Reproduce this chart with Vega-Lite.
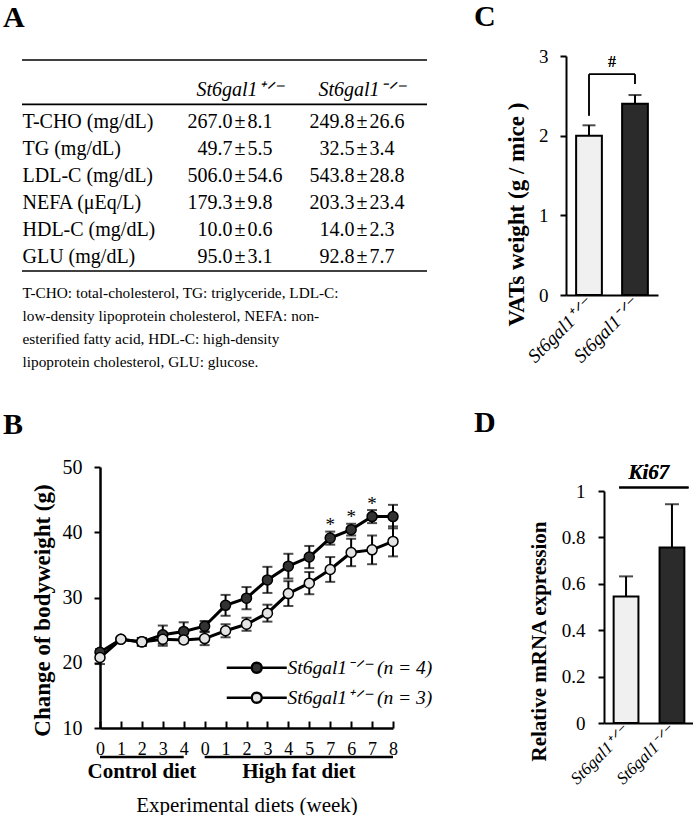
{
  "$schema": "https://vega.github.io/schema/vega-lite/v6.json",
  "padding": {"left": 3, "top": 2, "right": 0, "bottom": 0},
  "config": {
    "font": "Liberation Serif",
    "view": {"stroke": null},
    "axis": {"grid": false, "domainColor": "black", "tickColor": "black", "labelColor": "black", "titleColor": "black", "labelFont": "Liberation Serif", "titleFont": "Liberation Serif"},
    "title": {"font": "Liberation Serif", "color": "black", "fontSize": 30, "fontWeight": "bold", "anchor": "start", "frame": "group", "baseline": "top"},
    "text": {"font": "Liberation Serif", "color": "black"}
  },
  "datasets": {
    "table": [
      {"param": "T-CHO (mg/dL)", "group": "St6gal1⁺ᐟ⁻", "mean": 267.0, "sd": 8.1},
      {"param": "T-CHO (mg/dL)", "group": "St6gal1⁻ᐟ⁻", "mean": 249.8, "sd": 26.6},
      {"param": "TG (mg/dL)", "group": "St6gal1⁺ᐟ⁻", "mean": 49.7, "sd": 5.5},
      {"param": "TG (mg/dL)", "group": "St6gal1⁻ᐟ⁻", "mean": 32.5, "sd": 3.4},
      {"param": "LDL-C (mg/dL)", "group": "St6gal1⁺ᐟ⁻", "mean": 506.0, "sd": 54.6},
      {"param": "LDL-C (mg/dL)", "group": "St6gal1⁻ᐟ⁻", "mean": 543.8, "sd": 28.8},
      {"param": "NEFA (μEq/L)", "group": "St6gal1⁺ᐟ⁻", "mean": 179.3, "sd": 9.8},
      {"param": "NEFA (μEq/L)", "group": "St6gal1⁻ᐟ⁻", "mean": 203.3, "sd": 23.4},
      {"param": "HDL-C (mg/dL)", "group": "St6gal1⁺ᐟ⁻", "mean": 10.0, "sd": 0.6},
      {"param": "HDL-C (mg/dL)", "group": "St6gal1⁻ᐟ⁻", "mean": 14.0, "sd": 2.3},
      {"param": "GLU (mg/dL)", "group": "St6gal1⁺ᐟ⁻", "mean": 95.0, "sd": 3.1},
      {"param": "GLU (mg/dL)", "group": "St6gal1⁻ᐟ⁻", "mean": 92.8, "sd": 7.7}
    ],
    "growth": [
      {"idx": 0, "diet": "Control diet", "genotype": "St6gal1⁻ᐟ⁻ (n = 4)", "mean": 21.6, "sem": 0.5, "sig": ""},
      {"idx": 1, "diet": "Control diet", "genotype": "St6gal1⁻ᐟ⁻ (n = 4)", "mean": 23.6, "sem": 0.3, "sig": ""},
      {"idx": 2, "diet": "Control diet", "genotype": "St6gal1⁻ᐟ⁻ (n = 4)", "mean": 23.2, "sem": 0.6, "sig": ""},
      {"idx": 3, "diet": "Control diet", "genotype": "St6gal1⁻ᐟ⁻ (n = 4)", "mean": 24.3, "sem": 1.4, "sig": ""},
      {"idx": 4, "diet": "Control diet", "genotype": "St6gal1⁻ᐟ⁻ (n = 4)", "mean": 24.8, "sem": 1.4, "sig": ""},
      {"idx": 5, "diet": "High fat diet", "genotype": "St6gal1⁻ᐟ⁻ (n = 4)", "mean": 25.6, "sem": 0.8, "sig": ""},
      {"idx": 6, "diet": "High fat diet", "genotype": "St6gal1⁻ᐟ⁻ (n = 4)", "mean": 28.8, "sem": 1.6, "sig": ""},
      {"idx": 7, "diet": "High fat diet", "genotype": "St6gal1⁻ᐟ⁻ (n = 4)", "mean": 29.9, "sem": 1.7, "sig": ""},
      {"idx": 8, "diet": "High fat diet", "genotype": "St6gal1⁻ᐟ⁻ (n = 4)", "mean": 32.7, "sem": 2.0, "sig": ""},
      {"idx": 9, "diet": "High fat diet", "genotype": "St6gal1⁻ᐟ⁻ (n = 4)", "mean": 34.8, "sem": 1.9, "sig": ""},
      {"idx": 10, "diet": "High fat diet", "genotype": "St6gal1⁻ᐟ⁻ (n = 4)", "mean": 36.2, "sem": 1.7, "sig": ""},
      {"idx": 11, "diet": "High fat diet", "genotype": "St6gal1⁻ᐟ⁻ (n = 4)", "mean": 39.1, "sem": 1.0, "sig": "*"},
      {"idx": 12, "diet": "High fat diet", "genotype": "St6gal1⁻ᐟ⁻ (n = 4)", "mean": 40.4, "sem": 0.9, "sig": "*"},
      {"idx": 13, "diet": "High fat diet", "genotype": "St6gal1⁻ᐟ⁻ (n = 4)", "mean": 42.4, "sem": 1.0, "sig": "*"},
      {"idx": 14, "diet": "High fat diet", "genotype": "St6gal1⁻ᐟ⁻ (n = 4)", "mean": 42.4, "sem": 1.8, "sig": ""},
      {"idx": 0, "diet": "Control diet", "genotype": "St6gal1⁺ᐟ⁻ (n = 3)", "mean": 20.8, "sem": 1.0, "sig": ""},
      {"idx": 1, "diet": "Control diet", "genotype": "St6gal1⁺ᐟ⁻ (n = 3)", "mean": 23.6, "sem": 0.3, "sig": ""},
      {"idx": 2, "diet": "Control diet", "genotype": "St6gal1⁺ᐟ⁻ (n = 3)", "mean": 23.2, "sem": 0.6, "sig": ""},
      {"idx": 3, "diet": "Control diet", "genotype": "St6gal1⁺ᐟ⁻ (n = 3)", "mean": 23.6, "sem": 1.0, "sig": ""},
      {"idx": 4, "diet": "Control diet", "genotype": "St6gal1⁺ᐟ⁻ (n = 3)", "mean": 23.5, "sem": 0.5, "sig": ""},
      {"idx": 5, "diet": "High fat diet", "genotype": "St6gal1⁺ᐟ⁻ (n = 3)", "mean": 23.7, "sem": 1.0, "sig": ""},
      {"idx": 6, "diet": "High fat diet", "genotype": "St6gal1⁺ᐟ⁻ (n = 3)", "mean": 24.9, "sem": 1.0, "sig": ""},
      {"idx": 7, "diet": "High fat diet", "genotype": "St6gal1⁺ᐟ⁻ (n = 3)", "mean": 25.9, "sem": 1.0, "sig": ""},
      {"idx": 8, "diet": "High fat diet", "genotype": "St6gal1⁺ᐟ⁻ (n = 3)", "mean": 27.6, "sem": 1.3, "sig": ""},
      {"idx": 9, "diet": "High fat diet", "genotype": "St6gal1⁺ᐟ⁻ (n = 3)", "mean": 30.6, "sem": 1.9, "sig": ""},
      {"idx": 10, "diet": "High fat diet", "genotype": "St6gal1⁺ᐟ⁻ (n = 3)", "mean": 32.2, "sem": 1.7, "sig": ""},
      {"idx": 11, "diet": "High fat diet", "genotype": "St6gal1⁺ᐟ⁻ (n = 3)", "mean": 34.3, "sem": 1.9, "sig": ""},
      {"idx": 12, "diet": "High fat diet", "genotype": "St6gal1⁺ᐟ⁻ (n = 3)", "mean": 36.9, "sem": 2.1, "sig": ""},
      {"idx": 13, "diet": "High fat diet", "genotype": "St6gal1⁺ᐟ⁻ (n = 3)", "mean": 37.3, "sem": 2.2, "sig": ""},
      {"idx": 14, "diet": "High fat diet", "genotype": "St6gal1⁺ᐟ⁻ (n = 3)", "mean": 38.6, "sem": 2.3, "sig": ""}
    ],
    "vat": [
      {"genotype": "St6gal1⁺ᐟ⁻", "weight": 2.0, "sem": 0.13},
      {"genotype": "St6gal1⁻ᐟ⁻", "weight": 2.4, "sem": 0.11}
    ],
    "ki67": [
      {"genotype": "St6gal1⁺ᐟ⁻", "expr": 0.545, "sem": 0.087},
      {"genotype": "St6gal1⁻ᐟ⁻", "expr": 0.756, "sem": 0.187}
    ]
  },
  "spacing": 41,
  "resolve": {"scale": {"fill": "independent"}, "legend": {"fill": "independent"}},
  "hconcat": [
    {
      "spacing": 40,
      "resolve": {"scale": {"fill": "independent"}, "legend": {"fill": "independent"}},
      "vconcat": [
        {
          "width": 405,
          "height": 215,
          "title": {"text": "A", "dx": -19, "offset": 23},
          "data": {"name": "table"},
          "layer": [
            {
              "transform": [{"filter": "datum.param === 'T-CHO (mg/dL)'"}],
              "mark": {"type": "text", "fontSize": 20, "fontStyle": "italic", "baseline": "middle", "dy": -5},
              "encoding": {
                "x": {"field": "group", "type": "nominal", "scale": {"type": "point", "domain": ["St6gal1⁺ᐟ⁻", "St6gal1⁻ᐟ⁻"], "range": [218, 340], "padding": 0}, "axis": null},
                "y": {"datum": "header", "type": "nominal", "scale": {"type": "band", "range": [4, 215], "domain": ["header", "T-CHO (mg/dL)", "TG (mg/dL)", "LDL-C (mg/dL)", "NEFA (μEq/L)", "HDL-C (mg/dL)", "GLU (mg/dL)"], "paddingInner": 0, "paddingOuter": 0.407, "align": 1}},
                "text": {"field": "group"}
              }
            },
            {
              "mark": {"type": "text", "fontSize": 20, "align": "right", "baseline": "middle", "dx": -7.5},
              "encoding": {
                "x": {"field": "group", "type": "nominal", "scale": {"type": "point", "domain": ["St6gal1⁺ᐟ⁻", "St6gal1⁻ᐟ⁻"], "range": [218, 340], "padding": 0}, "axis": {"orient": "bottom", "domain": false, "labels": false, "ticks": false, "title": ["T-CHO: total-cholesterol, TG: triglyceride, LDL-C:", "low-density lipoprotein cholesterol, NEFA: non-", "esterified fatty acid, HDL-C:  high-density", "lipoprotein cholesterol, GLU: glucose."], "titleFontSize": 15.3, "titleFontWeight": "normal", "titleX": 0, "titleY": 14, "titleAlign": "left", "titleBaseline": "top", "titleLineHeight": 23}},
                "y": {"field": "param", "type": "nominal", "scale": {"type": "band", "range": [4, 215], "domain": ["header", "T-CHO (mg/dL)", "TG (mg/dL)", "LDL-C (mg/dL)", "NEFA (μEq/L)", "HDL-C (mg/dL)", "GLU (mg/dL)"], "paddingInner": 0, "paddingOuter": 0.407, "align": 1}, "axis": {"title": null, "domain": false, "ticks": false, "tickSize": 0, "labelPadding": 0, "labelAlign": "left", "labelFontSize": 20, "labelOverlap": false, "labelExpr": "datum.value === 'header' ? '' : datum.value"}},
                "text": {"field": "mean", "type": "quantitative", "format": ".1f"}
              }
            },
            {
              "mark": {"type": "text", "fontSize": 20, "baseline": "middle"},
              "encoding": {
                "x": {"field": "group", "type": "nominal", "scale": {"type": "point", "domain": ["St6gal1⁺ᐟ⁻", "St6gal1⁻ᐟ⁻"], "range": [218, 340], "padding": 0}, "axis": null},
                "y": {"field": "param", "type": "nominal", "scale": {"type": "band", "range": [4, 215], "domain": ["header", "T-CHO (mg/dL)", "TG (mg/dL)", "LDL-C (mg/dL)", "NEFA (μEq/L)", "HDL-C (mg/dL)", "GLU (mg/dL)"], "paddingInner": 0, "paddingOuter": 0.407, "align": 1}, "axis": {"title": null, "domain": false, "ticks": false, "tickSize": 0, "labelPadding": 0, "labelAlign": "left", "labelFontSize": 20, "labelOverlap": false, "labelExpr": "datum.value === 'header' ? '' : datum.value"}},
                "text": {"value": "±"}
              }
            },
            {
              "mark": {"type": "text", "fontSize": 20, "align": "left", "baseline": "middle", "dx": 7.5},
              "encoding": {
                "x": {"field": "group", "type": "nominal", "scale": {"type": "point", "domain": ["St6gal1⁺ᐟ⁻", "St6gal1⁻ᐟ⁻"], "range": [218, 340], "padding": 0}, "axis": null},
                "y": {"field": "param", "type": "nominal", "scale": {"type": "band", "range": [4, 215], "domain": ["header", "T-CHO (mg/dL)", "TG (mg/dL)", "LDL-C (mg/dL)", "NEFA (μEq/L)", "HDL-C (mg/dL)", "GLU (mg/dL)"], "paddingInner": 0, "paddingOuter": 0.407, "align": 1}, "axis": {"title": null, "domain": false, "ticks": false, "tickSize": 0, "labelPadding": 0, "labelAlign": "left", "labelFontSize": 20, "labelOverlap": false, "labelExpr": "datum.value === 'header' ? '' : datum.value"}},
                "text": {"field": "sd", "type": "quantitative", "format": ".1f"}
              }
            },
            {
              "transform": [{"filter": "datum.param === 'T-CHO (mg/dL)' && datum.group === 'St6gal1⁺ᐟ⁻'"}],
              "mark": {"type": "rule", "strokeWidth": 1.6, "color": "black"},
              "encoding": {
                "y": {"datum": "header", "type": "nominal", "bandPosition": -0.815, "scale": {"type": "band", "range": [4, 215], "domain": ["header", "T-CHO (mg/dL)", "TG (mg/dL)", "LDL-C (mg/dL)", "NEFA (μEq/L)", "HDL-C (mg/dL)", "GLU (mg/dL)"], "paddingInner": 0, "paddingOuter": 0.407, "align": 1}}
              }
            },
            {
              "transform": [{"filter": "datum.param === 'T-CHO (mg/dL)' && datum.group === 'St6gal1⁺ᐟ⁻'"}],
              "mark": {"type": "rule", "strokeWidth": 1.6, "color": "black"},
              "encoding": {
                "y": {"datum": "T-CHO (mg/dL)", "type": "nominal", "bandPosition": -0.17, "scale": {"type": "band", "range": [4, 215], "domain": ["header", "T-CHO (mg/dL)", "TG (mg/dL)", "LDL-C (mg/dL)", "NEFA (μEq/L)", "HDL-C (mg/dL)", "GLU (mg/dL)"], "paddingInner": 0, "paddingOuter": 0.407, "align": 1}}
              }
            },
            {
              "transform": [{"filter": "datum.param === 'T-CHO (mg/dL)' && datum.group === 'St6gal1⁺ᐟ⁻'"}],
              "mark": {"type": "rule", "strokeWidth": 1.6, "color": "black"},
              "encoding": {
                "y": {"datum": "GLU (mg/dL)", "type": "nominal", "bandPosition": 1, "scale": {"type": "band", "range": [4, 215], "domain": ["header", "T-CHO (mg/dL)", "TG (mg/dL)", "LDL-C (mg/dL)", "NEFA (μEq/L)", "HDL-C (mg/dL)", "GLU (mg/dL)"], "paddingInner": 0, "paddingOuter": 0.407, "align": 1}}
              }
            }
          ],
          "resolve": {"axis": {"x": "independent"}}
        },
        {
          "width": 371,
          "height": 261,
          "title": {"text": "B", "dx": -19, "offset": 17},
          "data": {"name": "growth"},
          "layer": [
            {
              "mark": {"type": "line", "color": "black", "strokeWidth": 3},
              "encoding": {
                "x": {"field": "idx", "type": "quantitative", "title": "Experimental diets (week)", "scale": {"domain": [0, 14], "range": [78, 371], "nice": false, "zero": false}, "axis": {"values": [0, 1, 2, 3, 4, 5, 6, 7, 8, 9, 10, 11, 12, 13, 14], "tickCount": 15, "labelExpr": "['0','1','2','3','4','0','1','2','3','4','5','7','6','7','8'][datum.value]", "tickSize": -7, "tickWidth": 2, "domainWidth": 2.5, "labelPadding": 19, "labelFontSize": 18, "labelFlush": false, "labelOverlap": false, "title": "Experimental diets (week)", "titleFontSize": 21, "titleFontWeight": "normal", "titlePadding": 36}},
                "y": {"field": "mean", "type": "quantitative", "title": "Change of  bodyweight (g)", "scale": {"domain": [10, 50], "nice": false, "zero": false}, "axis": {"offset": -78, "values": [10, 20, 30, 40, 50], "tickSize": 6, "tickWidth": 2, "domainWidth": 2.5, "labelPadding": 12, "labelFontSize": 20, "title": "Change of  bodyweight (g)", "titleFontSize": 23, "titleFontWeight": "bold", "titlePadding": 8, "titleY": 143}},
                "detail": {"field": "genotype"}
              }
            },
            {
              "mark": {"type": "errorbar", "color": "black", "ticks": {"size": 10, "thickness": 2}, "rule": {"strokeWidth": 2}},
              "encoding": {
                "x": {"field": "idx", "type": "quantitative", "title": "Experimental diets (week)", "axis": {"values": [0, 1, 2, 3, 4, 5, 6, 7, 8, 9, 10, 11, 12, 13, 14], "tickCount": 15, "labelExpr": "['0','1','2','3','4','0','1','2','3','4','5','7','6','7','8'][datum.value]", "tickSize": -7, "tickWidth": 2, "domainWidth": 2.5, "labelPadding": 19, "labelFontSize": 18, "labelFlush": false, "labelOverlap": false, "title": "Experimental diets (week)", "titleFontSize": 21, "titleFontWeight": "normal", "titlePadding": 36}},
                "y": {"field": "mean", "type": "quantitative", "title": "Change of  bodyweight (g)", "axis": {"offset": -78, "values": [10, 20, 30, 40, 50], "tickSize": 6, "tickWidth": 2, "domainWidth": 2.5, "labelPadding": 12, "labelFontSize": 20, "title": "Change of  bodyweight (g)", "titleFontSize": 23, "titleFontWeight": "bold", "titlePadding": 8, "titleY": 143}},
                "yError": {"field": "sem"}
              }
            },
            {
              "mark": {"type": "point", "shape": "circle", "filled": true, "size": 100, "stroke": "black", "strokeWidth": 1.5, "opacity": 1},
              "encoding": {
                "x": {"field": "idx", "type": "quantitative", "title": "Experimental diets (week)", "axis": {"values": [0, 1, 2, 3, 4, 5, 6, 7, 8, 9, 10, 11, 12, 13, 14], "tickCount": 15, "labelExpr": "['0','1','2','3','4','0','1','2','3','4','5','7','6','7','8'][datum.value]", "tickSize": -7, "tickWidth": 2, "domainWidth": 2.5, "labelPadding": 19, "labelFontSize": 18, "labelFlush": false, "labelOverlap": false, "title": "Experimental diets (week)", "titleFontSize": 21, "titleFontWeight": "normal", "titlePadding": 36}},
                "y": {"field": "mean", "type": "quantitative", "title": "Change of  bodyweight (g)", "axis": {"offset": -78, "values": [10, 20, 30, 40, 50], "tickSize": 6, "tickWidth": 2, "domainWidth": 2.5, "labelPadding": 12, "labelFontSize": 20, "title": "Change of  bodyweight (g)", "titleFontSize": 23, "titleFontWeight": "bold", "titlePadding": 8, "titleY": 143}},
                "fill": {"field": "genotype", "type": "nominal", "scale": {"domain": ["St6gal1⁻ᐟ⁻ (n = 4)", "St6gal1⁺ᐟ⁻ (n = 3)"], "range": ["#333333", "#e4e4e4"]}, "legend": {"orient": "none", "legendX": 225, "legendY": 191, "title": null, "symbolType": "M-6,0L-1,0M1,0L6,0M-1,0A1,1,0,1,0,1,0A1,1,0,1,0,-1,0Z", "symbolSize": 100, "symbolStrokeColor": "black", "symbolStrokeWidth": 2.4, "symbolOpacity": 1, "labelFont": "Liberation Serif", "labelFontStyle": "italic", "labelFontSize": 19.5, "labelColor": "black", "labelOffset": 21, "rowPadding": 9, "padding": 0}}
              }
            },
            {
              "mark": {"type": "text", "fontSize": 19, "dy": -13, "baseline": "middle"},
              "encoding": {
                "x": {"field": "idx", "type": "quantitative", "title": "Experimental diets (week)", "axis": {"values": [0, 1, 2, 3, 4, 5, 6, 7, 8, 9, 10, 11, 12, 13, 14], "tickCount": 15, "labelExpr": "['0','1','2','3','4','0','1','2','3','4','5','7','6','7','8'][datum.value]", "tickSize": -7, "tickWidth": 2, "domainWidth": 2.5, "labelPadding": 19, "labelFontSize": 18, "labelFlush": false, "labelOverlap": false, "title": "Experimental diets (week)", "titleFontSize": 21, "titleFontWeight": "normal", "titlePadding": 36}},
                "y": {"field": "mean", "type": "quantitative", "title": "Change of  bodyweight (g)", "axis": {"offset": -78, "values": [10, 20, 30, 40, 50], "tickSize": 6, "tickWidth": 2, "domainWidth": 2.5, "labelPadding": 12, "labelFontSize": 20, "title": "Change of  bodyweight (g)", "titleFontSize": 23, "titleFontWeight": "bold", "titlePadding": 8, "titleY": 143}},
                "text": {"field": "sig"}
              }
            },
            {
              "transform": [{"aggregate": [{"op": "min", "field": "idx", "as": "idx"}, {"op": "max", "field": "idx", "as": "last"}], "groupby": ["diet"]}],
              "mark": {"type": "rule", "color": "black", "strokeWidth": 2.5},
              "encoding": {
                "x": {"field": "idx", "type": "quantitative", "title": "Experimental diets (week)", "axis": {"values": [0, 1, 2, 3, 4, 5, 6, 7, 8, 9, 10, 11, 12, 13, 14], "tickCount": 15, "labelExpr": "['0','1','2','3','4','0','1','2','3','4','5','7','6','7','8'][datum.value]", "tickSize": -7, "tickWidth": 2, "domainWidth": 2.5, "labelPadding": 19, "labelFontSize": 18, "labelFlush": false, "labelOverlap": false, "title": "Experimental diets (week)", "titleFontSize": 21, "titleFontWeight": "normal", "titlePadding": 36}},
                "x2": {"field": "last"},
                "y": {"datum": 5.56, "title": "Change of  bodyweight (g)", "axis": {"offset": -78, "values": [10, 20, 30, 40, 50], "tickSize": 6, "tickWidth": 2, "domainWidth": 2.5, "labelPadding": 12, "labelFontSize": 20, "title": "Change of  bodyweight (g)", "titleFontSize": 23, "titleFontWeight": "bold", "titlePadding": 8, "titleY": 143}}
              }
            },
            {
              "transform": [{"filter": "datum.genotype === 'St6gal1⁺ᐟ⁻ (n = 3)'"}, {"aggregate": [{"op": "mean", "field": "idx", "as": "idx"}], "groupby": ["diet"]}],
              "mark": {"type": "text", "fontSize": 21, "fontWeight": "bold", "baseline": "middle"},
              "encoding": {
                "x": {"field": "idx", "type": "quantitative", "title": "Experimental diets (week)", "axis": {"values": [0, 1, 2, 3, 4, 5, 6, 7, 8, 9, 10, 11, 12, 13, 14], "tickCount": 15, "labelExpr": "['0','1','2','3','4','0','1','2','3','4','5','7','6','7','8'][datum.value]", "tickSize": -7, "tickWidth": 2, "domainWidth": 2.5, "labelPadding": 19, "labelFontSize": 18, "labelFlush": false, "labelOverlap": false, "title": "Experimental diets (week)", "titleFontSize": 21, "titleFontWeight": "normal", "titlePadding": 36}},
                "y": {"datum": 3.3, "title": "Change of  bodyweight (g)", "axis": {"offset": -78, "values": [10, 20, 30, 40, 50], "tickSize": 6, "tickWidth": 2, "domainWidth": 2.5, "labelPadding": 12, "labelFontSize": 20, "title": "Change of  bodyweight (g)", "titleFontSize": 23, "titleFontWeight": "bold", "titlePadding": 8, "titleY": 143}},
                "text": {"field": "diet"}
              }
            }
          ]
        }
      ]
    },
    {
      "spacing": 41,
      "resolve": {"scale": {"fill": "independent"}},
      "vconcat": [
        {
          "width": 92,
          "height": 239,
          "title": {"text": "C", "dx": -92, "offset": 15},
          "data": {"name": "vat"},
          "encoding": {
            "x": {"field": "genotype", "type": "nominal", "scale": {"type": "band", "domain": ["St6gal1⁺ᐟ⁻", "St6gal1⁻ᐟ⁻"], "paddingInner": 0.44, "paddingOuter": 0.22}, "axis": {"title": null, "ticks": false, "domainWidth": 2, "labelAngle": -45, "labelAlign": "right", "labelBaseline": "middle", "labelFontSize": 19, "labelFontStyle": "italic", "labelPadding": 6}},
            "y": {"field": "weight", "type": "quantitative", "title": "VATs weight (g / mice )", "scale": {"domain": [0, 3], "nice": false}, "axis": {"values": [0, 1, 2, 3], "tickSize": 6, "tickWidth": 2, "domainWidth": 2, "labelFontSize": 19, "labelPadding": 12, "title": "VATs weight (g / mice )", "titleFontSize": 23, "titleFontWeight": "bold", "titlePadding": 10, "titleY": 158}}
          },
          "layer": [
            {
              "mark": {"type": "errorbar", "color": "black", "ticks": {"size": 13, "thickness": 2}, "rule": {"strokeWidth": 2}},
              "encoding": {"yError": {"field": "sem"}}
            },
            {
              "mark": {"type": "bar", "stroke": "black", "strokeWidth": 2},
              "encoding": {
                "fill": {"field": "genotype", "type": "nominal", "scale": {"domain": ["St6gal1⁺ᐟ⁻", "St6gal1⁻ᐟ⁻"], "range": ["#f0f0f0", "#2b2b2b"]}, "legend": null}
              }
            },
            {
              "mark": {"type": "rule", "color": "black", "strokeWidth": 1.5},
              "encoding": {
                "x": {"datum": "St6gal1⁺ᐟ⁻", "bandPosition": 0.5},
                "y": {"datum": 2.25},
                "y2": {"datum": 2.77}
              }
            },
            {
              "mark": {"type": "rule", "color": "black", "strokeWidth": 1.5},
              "encoding": {
                "x": {"datum": "St6gal1⁻ᐟ⁻", "bandPosition": 0.5},
                "y": {"datum": 2.65},
                "y2": {"datum": 2.77}
              }
            },
            {
              "mark": {"type": "rule", "color": "black", "strokeWidth": 1.5},
              "encoding": {
                "x": {"datum": "St6gal1⁺ᐟ⁻", "bandPosition": 0.5},
                "x2": {"datum": "St6gal1⁻ᐟ⁻", "bandPosition": 0.5},
                "y": {"datum": 2.77}
              }
            },
            {
              "mark": {"type": "text", "fontSize": 16, "baseline": "middle", "dx": 23},
              "encoding": {
                "x": {"datum": "St6gal1⁺ᐟ⁻", "bandPosition": 0.5},
                "y": {"datum": 2.92},
                "text": {"value": "#"}
              }
            }
          ]
        },
        {
          "width": 128,
          "height": 232,
          "title": {"text": "D", "dx": -92, "offset": 24},
          "data": {"name": "ki67"},
          "encoding": {
            "x": {"field": "genotype", "type": "nominal", "scale": {"type": "band", "range": [38, 128], "domain": ["St6gal1⁺ᐟ⁻", "St6gal1⁻ᐟ⁻"], "paddingInner": 0.46, "paddingOuter": 0.21}, "axis": {"title": null, "ticks": false, "domainWidth": 2, "labelAngle": -45, "labelAlign": "right", "labelBaseline": "middle", "labelFontSize": 17, "labelFontStyle": "italic", "labelPadding": 6}},
            "y": {"field": "expr", "type": "quantitative", "title": "Relative mRNA expression", "scale": {"domain": [0, 1], "nice": false}, "axis": {"offset": -38, "values": [0, 0.2, 0.4, 0.6, 0.8, 1], "format": "~g", "tickSize": 6, "tickWidth": 2, "domainWidth": 2, "labelFontSize": 19, "labelPadding": 13, "title": "Relative mRNA expression", "titleFontSize": 21, "titleFontWeight": "bold", "titlePadding": 12, "titleY": 150}}
          },
          "layer": [
            {
              "mark": {"type": "errorbar", "color": "black", "ticks": {"size": 14, "thickness": 2}, "rule": {"strokeWidth": 2}},
              "encoding": {"yError": {"field": "sem"}}
            },
            {
              "mark": {"type": "bar", "stroke": "black", "strokeWidth": 2},
              "encoding": {
                "fill": {"field": "genotype", "type": "nominal", "scale": {"domain": ["St6gal1⁺ᐟ⁻", "St6gal1⁻ᐟ⁻"], "range": ["#f0f0f0", "#2b2b2b"]}, "legend": null}
              }
            },
            {
              "mark": {"type": "rule", "color": "black", "strokeWidth": 2},
              "encoding": {
                "x": {"datum": "St6gal1⁺ᐟ⁻", "bandPosition": 0.22},
                "x2": {"datum": "St6gal1⁻ᐟ⁻", "bandPosition": 1.17},
                "y": {"datum": 1.015}
              }
            },
            {
              "mark": {"type": "text", "fontSize": 21, "fontWeight": "bold", "fontStyle": "italic", "baseline": "middle", "dx": 22.8},
              "encoding": {
                "x": {"datum": "St6gal1⁺ᐟ⁻", "bandPosition": 0.5},
                "y": {"datum": 1.077},
                "text": {"value": "Ki67"}
              }
            }
          ]
        }
      ]
    }
  ]
}
